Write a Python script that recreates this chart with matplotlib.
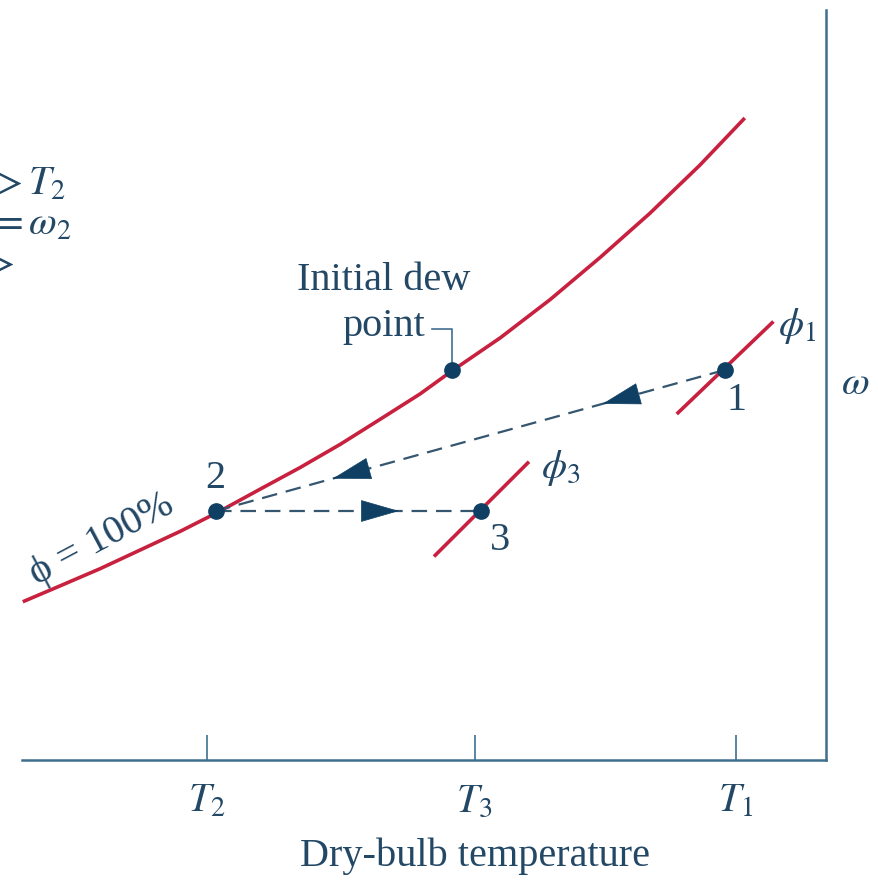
import matplotlib
matplotlib.use('Agg')
import matplotlib.pyplot as plt
import numpy as np

plt.rcParams['font.family'] = ['Liberation Serif', 'DejaVu Serif']
plt.rcParams['mathtext.fontset'] = 'stix'

# saturation curve (phi = 100%)
sat_T = [0.1, 4.7, 9.7, 14.7, 19.7, 24.3, 29.6, 34.6, 39.6, 44.5,
         49.5, 53.5, 59.5, 65.7, 71.9, 78.1, 84.3, 89.9]
sat_w = [21.1, 23.2, 25.5, 28.0, 30.5, 33.0, 36.1, 39.0, 42.1, 45.4,
         48.8, 51.9, 56.3, 61.4, 67.0, 72.9, 79.3, 85.6]

# states
state_names = ['1', '2', '3']
state_T = [87.4, 24.1, 57.1]
state_w = [52.0, 33.2, 33.2]
dew_T, dew_w = 53.5, 52.0

# short constant-phi segments
phi1_T = [81.6, 93.3]
phi1_w = [46.3, 58.3]
phi3_T = [51.4, 62.9]
phi3_w = [27.3, 39.6]

tick_pos = [23.0, 56.3, 88.8]
tick_labels = ['$T_2$', '$T_3$', '$T_1$']

# where arrowheads sit along each dashed path (fraction from start)
arrow_frac_12 = [0.24, 0.77]
arrow_frac_23 = [0.69]

red = '#c8203f'
navy = '#0f3f63'
slate = '#34566f'
axcol = '#3f6f8f'
txt = '#234866'

fig = plt.figure(figsize=(8.79, 8.81), dpi=100)
ax = fig.add_axes([22/879, 121/881, 804/879, 750/881])
ax.set_xlim(0, 100)
ax.set_ylim(0, 100)

for s in ['left', 'top']:
    ax.spines[s].set_visible(False)
for s in ['bottom', 'right']:
    ax.spines[s].set_color(axcol)
    ax.spines[s].set_linewidth(1.8)
ax.set_yticks([])
ax.set_xticks(tick_pos, tick_labels)
ax.tick_params(axis='x', direction='in', length=18, width=1.2, color=axcol,
               labelsize=29, labelcolor=txt, pad=17)
ax.set_xlabel('Dry-bulb temperature', fontsize=29, color=txt)
ax.xaxis.set_label_coords((475 - 22) / 804, -0.103)

fs = 29

# saturation curve
ax.plot(sat_T, sat_w, color=red, lw=2.6, solid_capstyle='butt')
ax.plot(phi1_T, phi1_w, color=red, lw=2.6)
ax.plot(phi3_T, phi3_w, color=red, lw=2.6)

# dashed process lines
p1 = np.array([state_T[0], state_w[0]])
p2 = np.array([state_T[1], state_w[1]])
p3 = np.array([state_T[2], state_w[2]])
ax.plot([p1[0], p2[0]], [p1[1], p2[1]], color=slate, lw=1.6, dashes=(7, 4))
ax.plot([p2[0], p3[0]], [p2[1], p3[1]], color=slate, lw=1.6, dashes=(7, 4))

def head(a, b, f):
    tip = a + (b - a) * f
    d = (b - a) / np.hypot(*(b - a))
    ax.annotate('', xy=tip, xytext=tip - d * 1.0,
                arrowprops=dict(arrowstyle='-|>,head_length=26,head_width=7.5',
                                mutation_scale=1, color=navy, lw=0.5,
                                shrinkA=0, shrinkB=0))

for f in arrow_frac_12:
    head(p1, p2, f)
for f in arrow_frac_23:
    head(p2, p3, f)

ax.plot(state_T, state_w, 'o', color=navy, ms=11, zorder=5)
ax.plot([dew_T], [dew_w], 'o', color=navy, ms=11, zorder=5)

ax.text(state_T[0] + 1.5, state_w[0] - 4.0, '1', fontsize=fs, color=txt, ha='center', va='center')
ax.text(state_T[1], state_w[1] + 4.4, '2', fontsize=fs, color=txt, ha='center', va='center')
ax.text(state_T[2] + 2.4, state_w[2] - 4.0, '3', fontsize=fs, color=txt, ha='center', va='center')
ax.text(94.0, 57.8, r'$\phi_1$', fontsize=fs, color=txt, ha='left', va='center')
ax.text(64.6, 38.9, r'$\phi_3$', fontsize=fs, color=txt, ha='left', va='center')
ax.text(10.0, 29.4, '\u03d5 = 100%', fontsize=fs, color=txt, ha='center', va='center',
        rotation=28, rotation_mode='anchor')
ax.text(103.6, 50.0, r'$\omega$', fontsize=fs, color=txt, ha='center', va='center', clip_on=False)

# annotation for the dew point
ax.text(45.0, 63.9, 'Initial dew', fontsize=fs, color=txt, ha='center', va='center')
ax.text(50.2, 57.8, 'point', fontsize=fs, color=txt, ha='right', va='center')
ax.plot([51.0, dew_T, dew_T], [57.5, 57.5, dew_w], color=axcol, lw=1.2)

# text cut off at the left edge in the original
ax.text(5.5, 76.7, r'$T_1 > T_2$', fontsize=fs, color=txt, ha='right', va='center', clip_on=False)
ax.text(6.2, 71.3, r'$\omega_1 = \omega_2$', fontsize=fs, color=txt, ha='right', va='center', clip_on=False)
ax.text(-0.9, 66.0, r'$\phi_2 >$', fontsize=fs, color=txt, ha='right', va='center', clip_on=False)

fig.savefig('out.png', dpi=100)
